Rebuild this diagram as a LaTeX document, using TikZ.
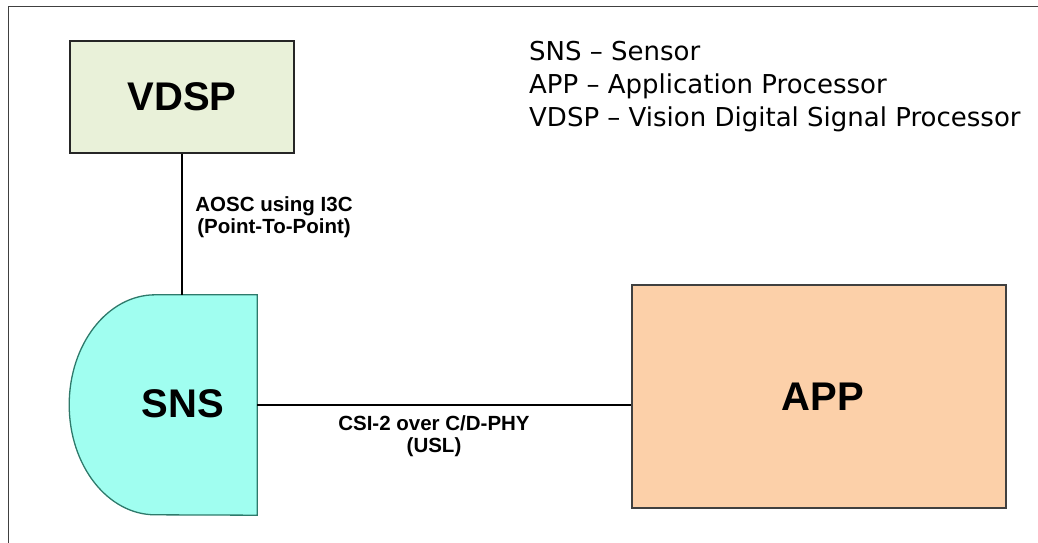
\documentclass[tikz,border=0pt]{standalone}
\usepackage{fontspec}
\setmainfont{Liberation Sans}
\newfontfamily\legendfont{DejaVu Sans}
\definecolor{vdspfill}{HTML}{E9F1D9}
\definecolor{appfill}{HTML}{FCD0A9}
\definecolor{snsfill}{HTML}{A0FEF0}
\definecolor{snsline}{HTML}{2E7A6B}
\definecolor{frameline}{HTML}{404040}
\begin{document}
\begin{tikzpicture}[x=1pt,y=-1pt,
  block/.style={draw=black!85, line width=1.5pt, inner sep=0pt},
  blocktext/.style={font=\fontsize{40}{44}\selectfont\bfseries, inner sep=0pt},
  link/.style={draw=black, line width=2.6pt},
  linklabel/.style={font=\fontsize{20.5}{22}\selectfont\bfseries, align=center, inner sep=0pt},
  legend/.style={font=\legendfont\fontsize{26}{33}\selectfont, anchor=base west, inner sep=0pt}]
\useasboundingbox (0,0) rectangle (1038,543);
% outer frame (open at right and bottom)
\draw[frameline, line width=1pt] (8.5,543) -- (8.5,7) -- (1038,7);

% blocks
\node[block, fill=vdspfill, minimum width=224pt, minimum height=112pt] (vdsp) at (182,97) {};
\node[blocktext] (vdsptext) at (182,97) {VDSP};
\node[block, fill=appfill, draw=black!75, minimum width=374pt, minimum height=223pt] (app) at (819,396.5) {};
\node[blocktext] (apptext) at (823,397) {APP};

% sensor: half-rounded block
\node[minimum width=188pt, minimum height=220pt, inner sep=0pt] (sns) at (163,405) {};
\path[fill=snsfill, draw=snsline, line width=1.3pt]
  (sns.north east) -- ++(-102,0) arc[start angle=90, end angle=270, x radius=86, y radius=-110]
  -- (sns.south east) -- cycle;
\node[blocktext] (snstext) at (183,404) {SNS};

% connectors
\draw[link] (vdsp.south) -- (vdsp.south |- sns.north);
\draw[link] (sns.east) -- (sns.east -| app.west);

% connector labels
\node[linklabel] (aosc) at (274,217) {AOSC using I3C\\(Point-To-Point)};
\node[linklabel] (csi) at (434,436) {CSI-2 over C/D-PHY\\(USL)};

% legend
\node[legend] (leg1) at (529,60.5) {SNS – Sensor};
\node[legend] (leg2) at (529,93.5) {APP – Application Processor};
\node[legend] (leg3) at (529,126.5) {VDSP – Vision Digital Signal Processor};
\end{tikzpicture}
\end{document}
